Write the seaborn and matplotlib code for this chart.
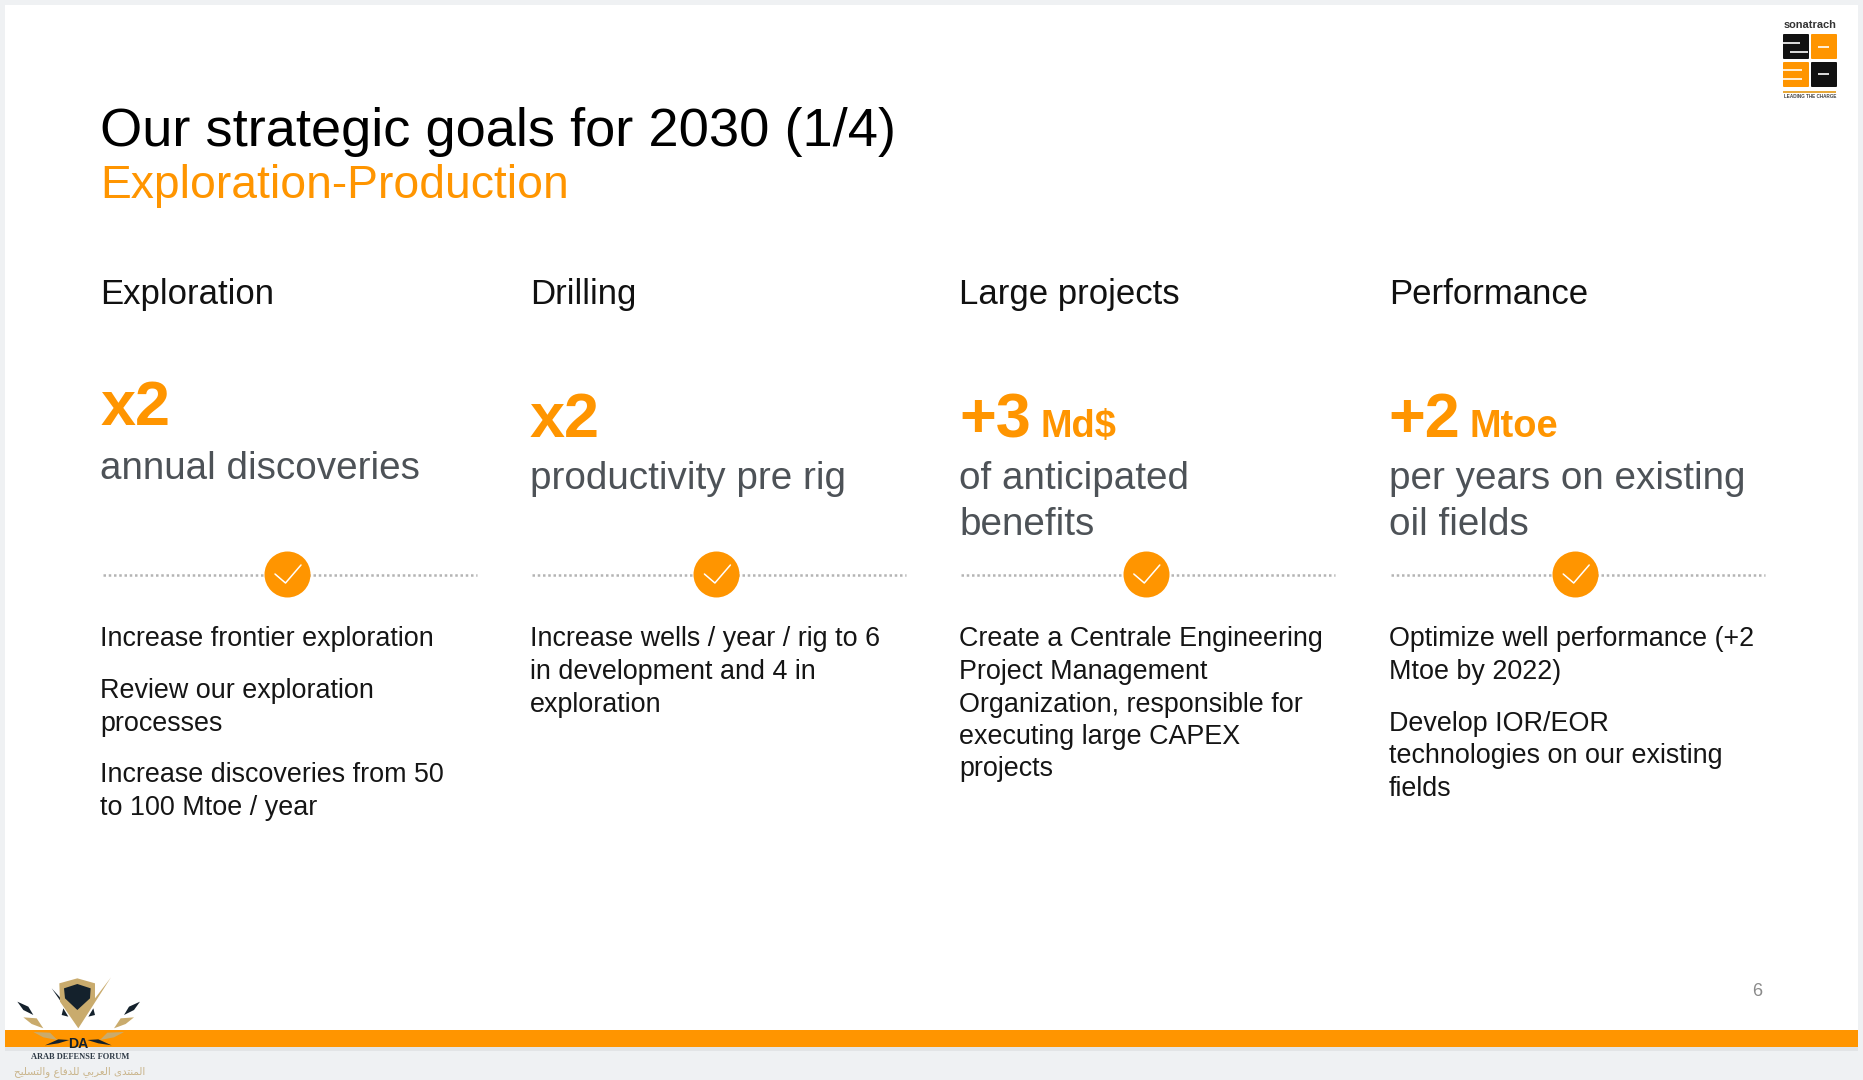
import matplotlib
matplotlib.use("Agg")
import matplotlib.pyplot as plt
from matplotlib.patches import Rectangle, Polygon, FancyBboxPatch
import pandas as pd
import seaborn as sns

sns.set_theme(style="white")
plt.rcParams['font.family'] = ['Liberation Sans', 'DejaVu Sans']

ORANGE = "#ff9500"
GREY = "#4d5257"

title = "Our strategic goals for 2030 (1/4)"
subtitle = "Exploration-Production"
headings = ["Exploration", "Drilling", "Large projects", "Performance"]
big_values = ["x2", "x2", "+3", "+2"]
big_units = ["", "", "Md$", "Mtoe"]
sub_texts = ["annual discoveries", "productivity pre rig", "of anticipated\nbenefits", "per years on existing\noil fields"]
bodies = [
    ["Increase frontier exploration", "Review our exploration\nprocesses", "Increase discoveries from 50\nto 100 Mtoe / year"],
    ["Increase wells / year / rig to 6\nin development and 4 in\nexploration"],
    ["Create a Centrale Engineering\nProject Management\nOrganization, responsible for\nexecuting large CAPEX\nprojects"],
    ["Optimize well performance (+2\nMtoe by 2022)", "Develop IOR/EOR\ntechnologies on our existing\nfields"],
]
page_number = "6"
forum_name = "ARAB DEFENSE FORUM"
# presentation forms, matplotlib does no arabic shaping
forum_arabic = ("\ufe8d\ufedf\ufee4\ufee8\ufe98\ufeaa\ufeef \ufe8d\ufedf\ufecc\ufeae\ufe91\ufef2 "
                "\ufedf\ufee0\ufeaa\ufed3\ufe8e\ufec9 \ufeed\ufe8d\ufedf\ufe98\ufeb4\ufee0\ufef4\ufea2")[::-1]

COL_LEFT = 100.5
COL_STEP = 429.4
col_x = [COL_LEFT + i * COL_STEP for i in range(4)]


def px(size):
    return size * 0.72


fig = plt.figure(figsize=(18.63, 10.8), dpi=100, facecolor="#eff1f3")
ax = fig.add_axes([0, 0, 1, 1])
ax.set_xlim(0, 1863)
ax.set_ylim(1080, 0)
ax.axis("off")

# slide and bottom bar
ax.add_patch(Rectangle((5, 5), 1853, 1041, fc="white", ec="none", zorder=0))
ax.add_patch(Rectangle((5, 1030), 1853, 17, fc=ORANGE, ec="none", zorder=1))
ax.add_patch(Rectangle((5, 1047), 1853, 4, fc="#e2e4e6", ec="none", zorder=0.5))

ax.text(COL_LEFT, 146, title, fontsize=px(54.2), color="black", va="baseline")
ax.text(COL_LEFT, 198, subtitle, fontsize=px(46.3), color=ORANGE, va="baseline")

for i, x in enumerate(col_x):
    ax.text(x, 304, headings[i], fontsize=px(34.8), color="#111111", va="baseline")

    big_y = 425 if i == 0 else 437
    big = ax.text(x, big_y, big_values[i], fontsize=px(63), color=ORANGE, weight="bold", va="baseline")
    if big_units[i]:
        box = big.get_window_extent(fig.canvas.get_renderer())
        ax.text(box.x1 + 9, big_y, big_units[i], fontsize=px(38), color=ORANGE, weight="bold", va="baseline")

    sub_y = 479 if i == 0 else 489
    for j, line in enumerate(sub_texts[i].split("\n")):
        ax.text(x, sub_y + j * 46, line, fontsize=px(38.6), color=GREY, va="baseline")

    # dotted rule behind the tick badge
    rule = pd.DataFrame({"x": [x + 2, x + 376], "y": [574.8, 574.8]})
    sns.lineplot(data=rule, x="x", y="y", ax=ax, color="#b4b4b4", linewidth=1.8,
                 linestyle=(0, (1, 1.1)), zorder=2, legend=False)

    # body text
    y = 646.5
    for para in bodies[i]:
        for line in para.split("\n"):
            ax.text(x, y, line, fontsize=px(26.9), color="#151515", va="baseline")
            y += 32.5
        y += 19.2

badges = pd.DataFrame({"x": [x + 186.5 for x in col_x], "y": [573.5] * 4})
sns.scatterplot(data=badges, x="x", y="y", ax=ax, s=(46 * 0.72) ** 2, color=ORANGE,
                linewidth=0, zorder=3, legend=False)
for x in badges["x"]:
    ax.plot([x - 12, x - 1.5, x + 14], [574, 583, 565], color="white", lw=1.1, zorder=4)

ax.text(1757, 996, page_number, fontsize=px(18), color="#8a8a8a", ha="center", va="baseline")

ax.set_xlabel("")
ax.set_ylabel("")

# logo top right
LOGO_BLACK = "#111111"
for lx, ly, c in [(1783, 34, LOGO_BLACK), (1811, 34, ORANGE), (1783, 62, ORANGE), (1811, 62, LOGO_BLACK)]:
    ax.add_patch(FancyBboxPatch((lx + 1, ly + 1), 24, 23, boxstyle="round,pad=1", fc=c, ec="none", zorder=2))
for x0, x1, ly in [(1783, 1800, 43), (1790, 1808, 52), (1818, 1829, 47), (1783, 1802, 70), (1783, 1802, 79), (1818, 1829, 74)]:
    ax.plot([x0, x1], [ly, ly], color="white", lw=1.2, zorder=3, solid_capstyle="butt")
ax.text(1810, 28, "sonatrach", fontsize=px(11), color="#333333", weight="bold", ha="center", va="baseline")
ax.add_patch(Rectangle((1783, 91), 53, 2, fc="#e8a93a", ec="none", zorder=2))
ax.text(1810, 98, "LEADING THE CHARGE", fontsize=px(4.6), color="#444444", weight="bold", ha="center", va="baseline")

# forum watermark, bottom left
GOLD = "#c9ab6d"
NAVY = "#14212c"


def zoom_pts(pts):
    return [(a / 3, 960 + b / 3) for a, b in pts]


wm_shapes = [
    ([(155, 85), (215, 150), (235, 195), (200, 150)], NAVY),
    ([(178, 70), (232, 55), (285, 70), (285, 115), (333, 52), (235, 205), (180, 125)], GOLD),
    ([(192, 85), (232, 72), (272, 85), (270, 115), (232, 150), (195, 115)], NAVY),
    ([(190, 145), (205, 170), (185, 165)], NAVY),
    ([(280, 145), (265, 170), (285, 165)], NAVY),
    ([(52, 125), (85, 140), (100, 165), (70, 150)], NAVY),
    ([(420, 125), (387, 140), (372, 165), (402, 150)], NAVY),
    ([(70, 172), (110, 175), (130, 205), (95, 192)], GOLD),
    ([(402, 172), (362, 175), (342, 205), (377, 192)], GOLD),
    ([(100, 216), (150, 218), (172, 240), (130, 232)], GOLD),
    ([(372, 216), (322, 218), (300, 240), (342, 232)], GOLD),
    ([(135, 256), (175, 238), (208, 240), (175, 250)], NAVY),
    ([(335, 256), (295, 238), (262, 240), (295, 250)], NAVY),
]
for pts, c in wm_shapes:
    ax.add_patch(Polygon(zoom_pts(pts), closed=True, fc=c, ec="none", zorder=5))
ax.text(78, 1048, "DA", fontsize=px(14), color=NAVY, weight="bold", ha="center", va="baseline", zorder=6)
ax.text(80, 1059, forum_name, fontsize=px(8.4), family="Liberation Serif", weight="bold", color="#2e3a46",
        ha="center", va="baseline", zorder=6)
ax.text(80, 1074, forum_arabic, fontsize=px(10.2), family="DejaVu Sans", color="#c9b48a",
        ha="center", va="baseline", zorder=6)

fig.savefig("out.png", dpi=100, facecolor=fig.get_facecolor())
